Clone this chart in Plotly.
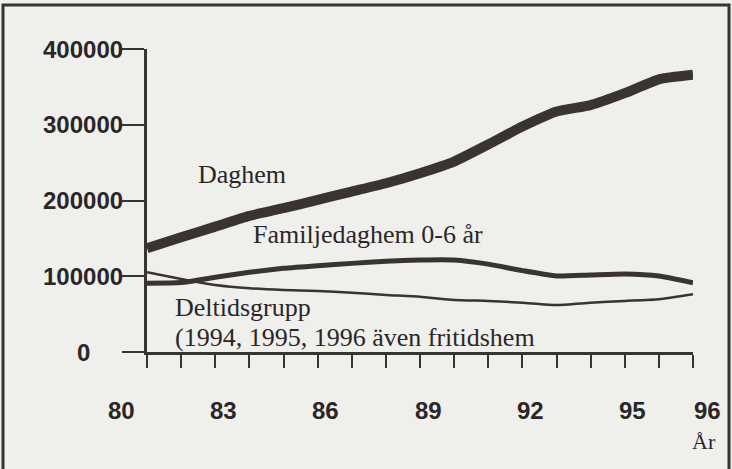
import plotly.graph_objects as go

years = list(range(80, 97))
daghem = [137000, 151500, 165500, 179700, 189800, 200800, 211800, 222800, 236000,
          251400, 274000, 297600, 317500, 326000, 341700, 360000, 366000]
familjedaghem = [90800, 91600, 98600, 105300, 110500, 114000, 117000, 119800, 121500,
                 121500, 116000, 107400, 100400, 101700, 103000, 100400, 91500]
deltidsgrupp = [105300, 96400, 88500, 84100, 81900, 80600, 78300, 75300, 73000,
                68700, 67400, 65100, 62100, 65100, 67400, 69600, 76200]

x_tick_years = [80, 83, 86, 89, 92, 95, 96]
x_tick_labels = ["80", "83", "86", "89", "92", "95", "96"]
y_tick_vals = [0, 100000, 200000, 300000, 400000]
y_tick_labels = ["0", "100000", "200000", "300000", "400000"]

ink = "#3a3334"
bg = "#efefec"
txtc = "#2b2627"
serif = "Liberation Serif, Times New Roman, serif"
sans = "Liberation Sans, Arial, sans-serif"

fig = go.Figure()
for vals, w in [(daghem, 10), (familjedaghem, 5), (deltidsgrupp, 2.5)]:
    fig.add_trace(go.Scatter(x=years, y=vals, mode="lines",
                             line=dict(color=ink, width=w, shape="spline", smoothing=0.5),
                             showlegend=False, hoverinfo="skip"))

L, R, T, B = 147, 39, 49, 117
W, H = 732, 469
pw, ph = W - L - R, H - T - B

fig.update_layout(
    width=W, height=H,
    margin=dict(l=L, r=R, t=T, b=B),
    paper_bgcolor=bg, plot_bgcolor=bg,
    showlegend=False,
    xaxis=dict(range=[80, 96], showgrid=False, zeroline=False, showline=True,
               linecolor=ink, linewidth=2.5, ticks="outside", ticklen=13,
               tickwidth=2, tickcolor=ink, tick0=80, dtick=1, showticklabels=False),
    yaxis=dict(range=[0, 400000], showgrid=False, zeroline=False, showline=True,
               linecolor=ink, linewidth=2.5, ticks="outside", ticklen=22,
               tickwidth=2, tickcolor=ink, tickvals=y_tick_vals, showticklabels=False),
)

ann = []
for yr, lab in zip(x_tick_years, x_tick_labels):
    ann.append(dict(x=yr, y=0, xref="x", yref="y", text=f"<b>{lab}</b>", showarrow=False,
                    xshift=(14 if yr == 96 else -26), yshift=-58,
                    font=dict(family=sans, size=24, color=txtc),
                    xanchor="center", yanchor="middle"))
for v, lab in zip(y_tick_vals, y_tick_labels):
    if v == 0:
        ann.append(dict(x=80, y=v, xref="x", yref="y", text=f"<b>{lab}</b>", showarrow=False,
                        xshift=-64, font=dict(family=sans, size=24, color=txtc),
                        xanchor="center", yanchor="middle"))
    else:
        ann.append(dict(x=80, y=v, xref="x", yref="y", text=f"<b>{lab}</b>", showarrow=False,
                        xshift=-22, font=dict(family=sans, size=24, color=txtc),
                        xanchor="right", yanchor="middle"))

labels = [
    ("Daghem", 81.45, 233800),
    ("Familjedaghem 0-6 år", 83.05, 154600),
    ("Deltidsgrupp", 80.75, 59400),
    ("(1994, 1995, 1996 även fritidshem", 80.75, 19800),
]
for txt, xx, yy in labels:
    ann.append(dict(x=xx, y=yy, xref="x", yref="y", text=txt, showarrow=False,
                    xanchor="left", yanchor="middle",
                    font=dict(family=serif, size=26, color=txtc)))
ann.append(dict(x=96, y=0, xref="x", yref="y", text="År", showarrow=False,
                xshift=11, yshift=-89, xanchor="center", yanchor="middle",
                font=dict(family=serif, size=22, color=txtc)))
fig.update_layout(annotations=ann)

# scanned page frame
fx0 = (3 - L) / pw
fx1 = (729 - L) / pw
fy1 = (H - B - 5) / ph
fy0 = (H - B - 480) / ph
fig.add_shape(type="rect", xref="paper", yref="paper", x0=fx0, x1=fx1, y0=fy0, y1=fy1,
              line=dict(color=ink, width=3), layer="below")

fig.write_html("out.html", config={"displayModeBar": False},
               post_script="document.body.style.margin='0';document.body.style.overflow='hidden';")
